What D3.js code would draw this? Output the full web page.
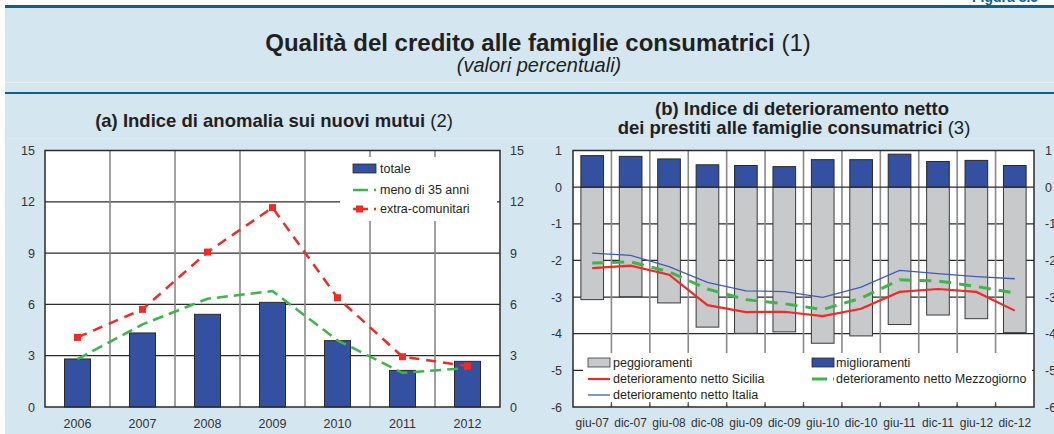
<!DOCTYPE html>
<html>
<head>
<meta charset="utf-8">
<script src="https://cdn.jsdelivr.net/npm/d3@7"></script>
<style>
    body { margin: 0; background: #fff; }
    svg { display: block; font-family: "Liberation Sans", Arial, sans-serif; }
</style>
</head>
<body>
<svg id="figura" width="1054" height="434"></svg>
<script>
"use strict";

// (a) Indice di anomalia sui nuovi mutui
const anni = ["2006", "2007", "2008", "2009", "2010", "2011", "2012"];
const totale = [2.81, 4.33, 5.42, 6.12, 3.88, 2.14, 2.67];
const meno35 = [2.8, 4.83, 6.33, 6.78, 3.9, 2.0, 2.28];
const extraCom = [4.07, 5.71, 9.06, 11.66, 6.39, 2.94, 2.4];
const ticksA = [0, 3, 6, 9, 12, 15];

// (b) Indice di deterioramento netto
const periodi = ["giu-07", "dic-07", "giu-08", "dic-08", "giu-09", "dic-09",
                 "giu-10", "dic-10", "giu-11", "dic-11", "giu-12", "dic-12"];
const peggioramenti = [-3.07, -2.99, -3.16, -3.82, -3.99, -3.95, -4.26, -4.06, -3.75, -3.49, -3.59, -3.97];
const miglioramenti = [0.86, 0.84, 0.77, 0.61, 0.59, 0.56, 0.75, 0.75, 0.9, 0.7, 0.73, 0.59];
const sicilia = [-2.21, -2.14, -2.39, -3.22, -3.41, -3.4, -3.52, -3.32, -2.86, -2.78, -2.86, -3.37];
const mezzogiorno = [-2.07, -2.04, -2.31, -2.78, -3.07, -3.18, -3.34, -3.03, -2.53, -2.56, -2.71, -2.89];
const italia = [-1.8, -1.86, -2.17, -2.6, -2.83, -2.85, -3.01, -2.73, -2.27, -2.36, -2.44, -2.5];
const ticksB = [-6, -5, -4, -3, -2, -1, 0, 1];

const BLU = "#3350a1", GRIGIO = "#c8c9cb", ROSSO = "#ee2b25", VERDE = "#3db54a", BLU_IT = "#3e5db5";
const SFONDO = "#d4e6f0", FILETTO = "#0f6189";
const FS = 12.5; // etichette assi e legende

const svg = d3.select("#figura");

// ---- cornice e intestazione ----
svg.append("rect").attr("x", 5).attr("y", 8).attr("width", 1049).attr("height", 426).attr("fill", SFONDO);
svg.append("rect").attr("x", 5).attr("y", 5).attr("width", 1049).attr("height", 3).attr("fill", FILETTO);
svg.append("rect").attr("x", 5).attr("y", 82).attr("width", 1049).attr("height", 1).attr("fill", "#e4eef5");
svg.append("rect").attr("x", 5).attr("y", 92).attr("width", 1049).attr("height", 2).attr("fill", FILETTO);
svg.append("rect").attr("x", 5).attr("y", 138).attr("width", 1049).attr("height", 1).attr("fill", "#dce9f2");

svg.append("text").attr("x", 972).attr("y", 2)
    .attr("font-size", 14).attr("font-weight", "bold").attr("fill", FILETTO)
    .text("Figura 8.5");

const titolo = svg.append("text").attr("x", 538).attr("y", 51)
    .attr("text-anchor", "middle").attr("font-size", 24).attr("fill", "#231f20");
titolo.append("tspan").attr("font-weight", "bold").text("Qualità del credito alle famiglie consumatrici");
titolo.append("tspan").text(" (1)");

svg.append("text").attr("x", 539).attr("y", 72)
    .attr("text-anchor", "middle").attr("font-size", 20).attr("font-style", "italic").attr("fill", "#231f20")
    .text("(valori percentuali)");

// righe: [testo grassetto, nota, centro x, linea di base]
function titoloPannello(righe) {
    righe.forEach(r => {
        const t = svg.append("text").attr("x", r[2]).attr("y", r[3])
            .attr("text-anchor", "middle").attr("font-size", 18.5).attr("fill", "#231f20");
        t.append("tspan").attr("font-weight", "bold").text(r[0]);
        if (r[1]) t.append("tspan").text(r[1]);
    });
}
titoloPannello([["(a) Indice di anomalia sui nuovi mutui", " (2)", 274, 127]]);
titoloPannello([["(b) Indice di deterioramento netto", "", 802, 115],
                ["dei prestiti alle famiglie consumatrici", " (3)", 794, 134]]);

function assi(g, y, ticks, x0, x1, dx) {
    g.append("g").attr("transform", `translate(${x0},0)`)
        .call(d3.axisLeft(y).tickValues(ticks).tickSize(0).tickPadding(dx).tickFormat(d => String(d)))
        .call(a => a.select(".domain").remove());
    g.append("g").attr("transform", `translate(${x1},0)`)
        .call(d3.axisRight(y).tickValues(ticks).tickSize(0).tickPadding(dx).tickFormat(d => String(d)))
        .call(a => a.select(".domain").remove());
    g.selectAll(".tick text").attr("font-size", FS).attr("fill", "#333")
        .attr("font-family", "'Liberation Sans', Arial, sans-serif");
}

// ================= (a) =================
const gA = svg.append("g");
const xA = d3.scaleBand().domain(anni).range([45, 500]);
const yA = d3.scaleLinear().domain([0, 15]).range([407, 150.5]);

gA.append("rect").attr("x", 45).attr("y", 150.5).attr("width", 455).attr("height", 256.5).attr("fill", "#fff");

gA.selectAll(".hgrid").data(ticksA.slice(1, -1)).join("line")
    .attr("x1", 45).attr("x2", 500).attr("y1", d => yA(d)).attr("y2", d => yA(d))
    .attr("stroke", "#2b2b2b").attr("stroke-width", 1.2);
gA.selectAll(".vgrid").data(anni.slice(1)).join("line")
    .attr("x1", d => xA(d)).attr("x2", d => xA(d)).attr("y1", 150.5).attr("y2", 407)
    .attr("stroke", "#8a8a8a").attr("stroke-width", 1.6);

const bwA = xA.bandwidth() * 0.4;
gA.selectAll(".barA").data(totale).join("rect")
    .attr("x", (d, i) => xA(anni[i]) + (xA.bandwidth() - bwA) / 2)
    .attr("y", d => yA(d)).attr("width", bwA).attr("height", d => yA(0) - yA(d))
    .attr("fill", BLU).attr("stroke", "#2a2a2a").attr("stroke-width", 1);

const lineaA = d3.line().x((d, i) => xA(anni[i]) + xA.bandwidth() / 2).y(d => yA(d));
gA.append("path").attr("d", lineaA(meno35)).attr("fill", "none")
    .attr("stroke", VERDE).attr("stroke-width", 2.5).attr("stroke-dasharray", "11,6");
gA.append("path").attr("d", lineaA(extraCom)).attr("fill", "none")
    .attr("stroke", ROSSO).attr("stroke-width", 2.5).attr("stroke-dasharray", "10,7");
gA.selectAll(".mk").data(extraCom).join("rect")
    .attr("x", (d, i) => xA(anni[i]) + xA.bandwidth() / 2 - 3.5).attr("y", d => yA(d) - 3.5)
    .attr("width", 7).attr("height", 7).attr("fill", ROSSO);

// legenda (a)
gA.append("rect").attr("x", 340).attr("y", 157).attr("width", 157).attr("height", 64).attr("fill", "#fff");
const legA = gA.append("g").attr("font-size", FS).attr("fill", "#231f20");
legA.append("rect").attr("x", 353).attr("y", 164).attr("width", 23).attr("height", 9)
    .attr("fill", BLU).attr("stroke", "#2a2a2a").attr("stroke-width", 0.8);
legA.append("line").attr("x1", 353).attr("x2", 376).attr("y1", 190).attr("y2", 190)
    .attr("stroke", VERDE).attr("stroke-width", 2.5).attr("stroke-dasharray", "15,6");
legA.append("line").attr("x1", 353).attr("x2", 376).attr("y1", 209).attr("y2", 209)
    .attr("stroke", ROSSO).attr("stroke-width", 2.5).attr("stroke-dasharray", "15,6");
legA.append("rect").attr("x", 356).attr("y", 205.5).attr("width", 7).attr("height", 7).attr("fill", ROSSO);
[["totale", 173], ["meno di 35 anni", 194], ["extra-comunitari", 213]].forEach(r => {
    legA.append("text").attr("x", 380).attr("y", r[1]).text(r[0]);
});

gA.append("rect").attr("x", 45).attr("y", 150.5).attr("width", 455).attr("height", 256.5)
    .attr("fill", "none").attr("stroke", "#2b2b2b").attr("stroke-width", 1.5);

assi(gA, yA, ticksA, 45, 500, 10);
gA.append("g").attr("transform", "translate(0,407)")
    .call(d3.axisBottom(xA).tickSize(0).tickPadding(12))
    .call(a => a.select(".domain").remove())
    .selectAll("text").attr("font-size", FS).attr("fill", "#333");

// ================= (b) =================
const gB = svg.append("g");
const xB = d3.scaleBand().domain(periodi).range([573, 1034]);
const yB = d3.scaleLinear().domain([-6, 1]).range([407, 150.5]);

gB.append("rect").attr("x", 573).attr("y", 150.5).attr("width", 461).attr("height", 256.5).attr("fill", "#fff");

gB.selectAll(".hgrid").data([-5, -4, -3, -2, -1]).join("line")
    .attr("x1", 573).attr("x2", 1034).attr("y1", d => yB(d)).attr("y2", d => yB(d))
    .attr("stroke", "#2b2b2b").attr("stroke-width", 1.2);
gB.selectAll(".vgrid").data(periodi.slice(1)).join("line")
    .attr("x1", d => xB(d)).attr("x2", d => xB(d)).attr("y1", 150.5).attr("y2", 407)
    .attr("stroke", "#8a8a8a").attr("stroke-width", 1.6);

const bwB = xB.bandwidth() * 0.59;
gB.selectAll(".pegg").data(peggioramenti).join("rect")
    .attr("x", (d, i) => xB(periodi[i]) + (xB.bandwidth() - bwB) / 2)
    .attr("y", yB(0)).attr("width", bwB).attr("height", d => yB(d) - yB(0))
    .attr("fill", GRIGIO).attr("stroke", "#3a3a3a").attr("stroke-width", 1);
gB.selectAll(".migl").data(miglioramenti).join("rect")
    .attr("x", (d, i) => xB(periodi[i]) + (xB.bandwidth() - bwB) / 2)
    .attr("y", d => yB(d)).attr("width", bwB).attr("height", d => yB(0) - yB(d))
    .attr("fill", BLU).attr("stroke", "#2a2a2a").attr("stroke-width", 1);

gB.append("line").attr("x1", 573).attr("x2", 1034).attr("y1", yB(0)).attr("y2", yB(0))
    .attr("stroke", "#2b2b2b").attr("stroke-width", 1.4);

const lineaB = d3.line().x((d, i) => xB(periodi[i]) + xB.bandwidth() / 2).y(d => yB(d));
gB.append("path").attr("d", lineaB(italia)).attr("fill", "none")
    .attr("stroke", BLU_IT).attr("stroke-width", 1.3);
gB.append("path").attr("d", lineaB(mezzogiorno)).attr("fill", "none")
    .attr("stroke", VERDE).attr("stroke-width", 3).attr("stroke-dasharray", "12,8");
gB.append("path").attr("d", lineaB(sicilia)).attr("fill", "none")
    .attr("stroke", ROSSO).attr("stroke-width", 2.2);

// legenda (b)
gB.append("rect").attr("x", 583).attr("y", 353).attr("width", 449).attr("height", 51).attr("fill", "#fff");
const legB = gB.append("g").attr("font-size", FS).attr("fill", "#231f20");
legB.append("rect").attr("x", 588).attr("y", 358).attr("width", 22).attr("height", 9)
    .attr("fill", GRIGIO).attr("stroke", "#3a3a3a").attr("stroke-width", 0.8);
legB.append("rect").attr("x", 812).attr("y", 358).attr("width", 22).attr("height", 9)
    .attr("fill", BLU).attr("stroke", "#2a2a2a").attr("stroke-width", 0.8);
legB.append("line").attr("x1", 588).attr("x2", 610).attr("y1", 379).attr("y2", 379)
    .attr("stroke", ROSSO).attr("stroke-width", 2.2);
legB.append("line").attr("x1", 812).attr("x2", 834).attr("y1", 379).attr("y2", 379)
    .attr("stroke", VERDE).attr("stroke-width", 3).attr("stroke-dasharray", "15,6");
legB.append("line").attr("x1", 588).attr("x2", 610).attr("y1", 395).attr("y2", 395)
    .attr("stroke", BLU_IT).attr("stroke-width", 1.3);
[["peggioramenti", 613, 367], ["miglioramenti", 836, 367],
 ["deterioramento netto Sicilia", 613, 383], ["deterioramento netto Mezzogiorno", 836, 383],
 ["deterioramento netto Italia", 613, 399]].forEach(r => {
    legB.append("text").attr("x", r[1]).attr("y", r[2]).text(r[0]);
});

// tacche in basso sopra la legenda
gB.selectAll(".tacca").data(periodi.slice(1)).join("line")
    .attr("x1", d => xB(d)).attr("x2", d => xB(d)).attr("y1", 402).attr("y2", 407)
    .attr("stroke", "#555").attr("stroke-width", 1.2);

gB.append("rect").attr("x", 573).attr("y", 150.5).attr("width", 461).attr("height", 256.5)
    .attr("fill", "none").attr("stroke", "#2b2b2b").attr("stroke-width", 1.5);

assi(gB, yB, ticksB, 573, 1034, 11);
gB.append("g").attr("transform", "translate(0,407)")
    .call(d3.axisBottom(xB).tickSize(0).tickPadding(11))
    .call(a => a.select(".domain").remove())
    .selectAll("text").attr("font-size", 12).attr("fill", "#333");
</script>
</body>
</html>
